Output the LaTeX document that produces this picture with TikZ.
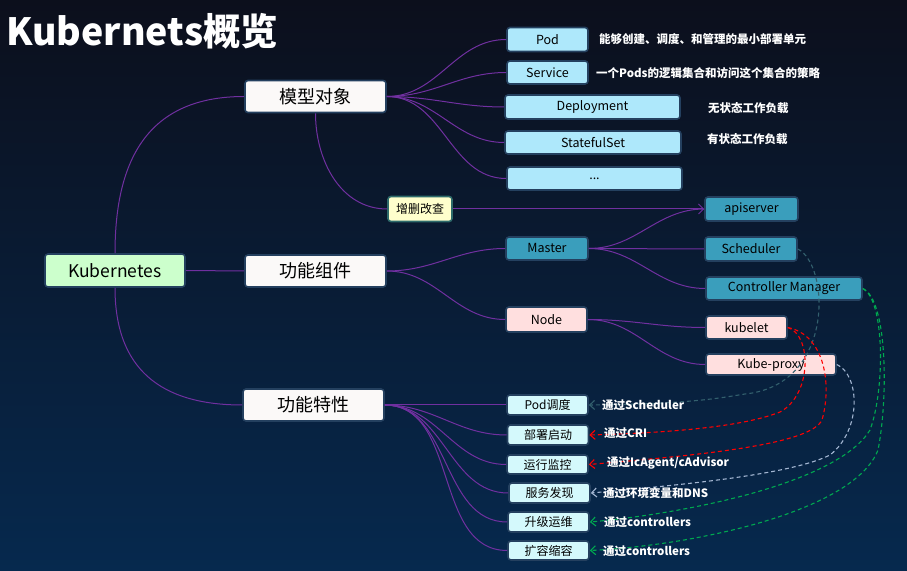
\documentclass[tikz,border=0pt]{standalone}
\usepackage{fontspec}
\setmainfont{Noto Sans CJK SC}
\usepackage{tikz}
\usetikzlibrary{arrows.meta}
\definecolor{bgtop}{HTML}{0C0F1C}
\definecolor{bgbot}{HTML}{06294E}
\definecolor{edge}{HTML}{7030A0}
\definecolor{rim}{HTML}{24405F}
\definecolor{rootfill}{HTML}{CCFFCC}
\definecolor{topicfill}{HTML}{FBF9F8}
\definecolor{objfill}{HTML}{AEE8FB}
\definecolor{masterfill}{HTML}{3A9EBC}
\definecolor{nodefill}{HTML}{FFDFDF}
\definecolor{featfill}{HTML}{D4F9FC}
\definecolor{notefill}{HTML}{FFFFCC}
\definecolor{notedraw}{HTML}{2E6B6B}
\definecolor{schline}{HTML}{33606E}
\definecolor{proxyline}{HTML}{A3B6D2}
\definecolor{cmline}{HTML}{00A850}
\begin{document}
\begin{tikzpicture}[x=1pt,y=1pt,
      box/.style={draw=rim,line width=1.6pt,rounded corners=3pt,inner sep=0pt,text=black},
      topic/.style={box,fill=topicfill,minimum width=141pt,minimum height=32pt,font=\fontsize{18}{20}\selectfont},
      obj/.style={box,fill=objfill,minimum height=24pt,font=\fontsize{12.5}{14}\selectfont},
      core/.style={box,fill=masterfill,minimum height=24pt,font=\fontsize{12.5}{14}\selectfont},
      worker/.style={box,fill=nodefill,minimum height=23pt,font=\fontsize{12.5}{14}\selectfont},
      feature/.style={box,fill=featfill,minimum width=81pt,minimum height=20pt,font=\fontsize{12}{14}\selectfont},
      link/.style={draw=edge,line width=1pt},
      hint/.style={text=white,anchor=west,inner sep=0pt,font=\bfseries\fontsize{11.5}{13}\selectfont},
      via/.style={line width=1.1pt,dash pattern=on 4pt off 3pt,-{Straight Barb[length=5pt,width=9pt]}}]
              \useasboundingbox(0,0)rectangle(907,570);
              \shade[top color=bgtop,bottom color=bgbot](0,0)rectangle(907,570);
              \node[text=white,anchor=west,inner sep=0pt,font=\bfseries\fontsize{37.5}{40}\selectfont](title)at(6,539){Kubernets概览};
              \node[topic,fill=rootfill,minimum width=140pt,minimum height=33pt,font=\fontsize{17.5}{20}\selectfont](kube)at(115,299.5){Kubernetes};
              \node[topic](model)at(315.5,473.5){模型对象};
              \node[topic](comp)at(315.5,299){功能组件};
              \node[topic](feat)at(313.5,165){功能特性};
              \node[obj,minimum width=81pt](pod)at(547.5,530.5){Pod};
              \node[obj,minimum width=81pt,minimum height=23pt](svc)at(547.5,497.5){Service};
              \node[obj,minimum width=175pt](deploy)at(592.5,463){Deployment};
              \node[obj,minimum width=176pt,minimum height=23pt](sts)at(593,427.5){StatefulSet};
              \node[obj,minimum width=175pt,minimum height=23pt](more)at(594.5,391.5){...};
              \node[box,fill=notefill,draw=notedraw,minimum width=64pt,minimum height=25pt,font=\fontsize{12}{14}\selectfont](crud)at(420,361){增删改查};
              \node[core,minimum width=93pt](api)at(751.5,361){apiserver};
              \node[core,minimum width=82pt,minimum height=23pt](master)at(547,321.5){Master};
              \node[core,minimum width=92pt](sched)at(751,321){Scheduler};
              \node[core,minimum width=156pt,minimum height=23pt](cm)at(784,281.5){Controller Manager};
              \node[worker,minimum width=81pt,minimum height=25pt](node)at(546.5,250.5){Node};
              \node[worker,minimum width=81pt](kubelet)at(746.5,242.5){kubelet};
              \node[worker,minimum width=130pt,minimum height=21pt](proxy)at(771,205.5){Kube-proxy};
              \node[feature](f1)at(547.5,165){Pod调度};
              \node[feature](f2)at(548,135){部署启动};
              \node[feature,minimum height=19pt](f3)at(547.5,105.5){运行监控};
              \node[feature](f4)at(549.5,77){服务发现};
              \node[feature](f5)at(548.5,48){升级运维};
              \node[feature,minimum height=19pt](f6)at(548.5,19.5){扩容缩容};
              \draw[link](kube.east)--(comp.west);
              \draw[link](kube.north)to[out=90,in=180,looseness=1.2](model.west);
              \draw[link](kube.south)to[out=-90,in=180,looseness=1.2](feat.west);
              \draw[link](model.south)to[out=-90,in=180](crud.west);
              \draw[link,-{Straight Barb[length=5pt,width=10pt]}](crud.east)--(api.west);
              \draw[link](model.east)to[out=0,in=180](pod.west);
              \draw[link](model.east)to[out=0,in=180](svc.west);
              \draw[link](model.east)to[out=0,in=180](deploy.west);
              \draw[link](model.east)to[out=0,in=180](sts.west);
              \draw[link](model.east)to[out=0,in=180](more.west);
              \draw[link](comp.east)to[out=0,in=180](master.west);
              \draw[link](comp.east)to[out=0,in=180](node.west);
              \draw[link](master.east)to[out=0,in=180](api.west);
              \draw[link](master.east)to[out=0,in=180](sched.west);
              \draw[link](master.east)to[out=0,in=180](cm.west);
              \draw[link](node.east)to[out=0,in=180](kubelet.west);
              \draw[link](node.east)to[out=0,in=180](proxy.west);
              \draw[link](feat.east)--(f1.west);
              \draw[link](feat.east)to[out=0,in=180](f2.west);
              \draw[link](feat.east)to[out=0,in=180](f3.west);
              \draw[link](feat.east)to[out=0,in=180](f4.west);
              \draw[link](feat.east)to[out=0,in=180](f5.west);
              \draw[link](feat.east)to[out=0,in=180](f6.west);
              \draw[via,schline](sched.east)..controls(830,305)and(835,185)..(745,176)..controls(720,172)and(690,166)..(f1.east);
              \draw[via,red](kubelet.east)..controls(812,235)and(812,175)..(780,158)..controls(740,142)and(660,137)..(f2.east);
              \draw[via,red](kubelet.east)..controls(825,235)and(832,185)..(822,150)..controls(810,125)and(700,115)..(f3.east);
              \draw[via,proxyline](proxy.east)..controls(860,195)and(862,140)..(830,115)..controls(790,95)and(680,85)..(f4.east);
              \draw[via,cmline](cm.east)..controls(885,270)and(885,180)..(870,140)..controls(840,90)and(700,58)..(f5.east);
              \draw[via,cmline](cm.east)..controls(888,270)and(888,170)..(878,120)..controls(855,60)and(700,25)..(f6.east);
              \node[hint](dpod)at(599,531){能够创建、调度、和管理的最小部署单元};
              \node[hint](dsvc)at(596,497){一个Pods的逻辑集合和访问这个集合的策略};
              \node[hint](ddeploy)at(708,462){无状态工作负载};
              \node[hint](dsts)at(707,431){有状态工作负载};
              \node[hint](v1)at(602,165){通过Scheduler};
              \node[hint](v2)at(604,137){通过CRI};
              \node[hint](v3)at(607,107){通过IcAgent/cAdvisor};
              \node[hint](v4)at(603,77){通过环境变量和DNS};
              \node[hint](v5)at(604,48){通过controllers};
              \node[hint](v6)at(603,19){通过controllers};
            \end{tikzpicture}
\end{document}
